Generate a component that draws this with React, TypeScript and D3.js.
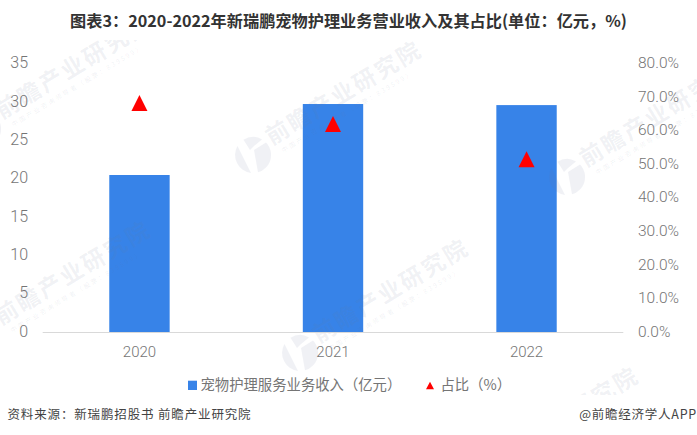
import React from 'react';
import * as d3 from 'd3';

const years = ['2020', '2021', '2022'];
const revenue = [20.48, 29.74, 29.6];
const share = [68.3, 62.0, 51.5];
const leftTicks = [0, 5, 10, 15, 20, 25, 30, 35];
const rightTicks = [0, 10, 20, 30, 40, 50, 60, 70, 80];
// logo centres of the repeated watermark
const watermarks = [
  { x: -17, y: 129 },
  { x: 253, y: 155 },
  { x: 567, y: 177 },
  { x: -18, y: 335 },
  { x: 300, y: 353 },
  { x: 470, y: 481 },
];

const width = 697;
const height = 435;
const CJK = '"Noto Sans CJK SC", "Noto Sans", sans-serif';
const NUM = 'Roboto, "Liberation Sans", sans-serif';
const WM = '#6b7a99';

const x = d3.scaleBand().domain(years).range([42.7, 623.3]).paddingInner(0.688).paddingOuter(0.344);
const yLeft = d3.scaleLinear().domain([0, 35]).range([332, 63.7]);
const yRight = d3.scaleLinear().domain([0, 80]).range([332, 63.7]);

const triangle = d3.symbol().type({
  draw(ctx: any, size: number) {
    ctx.moveTo(0, -size / 2);
    ctx.lineTo(size / 2, size / 2);
    ctx.lineTo(-size / 2, size / 2);
    ctx.closePath();
  },
}).size(16);

const App: React.FC = () => {
  return (
    <svg
      width={width}
      height={height}
      viewBox={`0 0 ${width} ${height}`}
      style={{ position: 'absolute', left: 0, top: 0, background: '#fff' }}
    >
      <defs>
        <clipPath id="wmClip">
          <rect x={0} y={40} width={width} height={355} />
        </clipPath>
      </defs>

      {/* Bars */}
      {years.map((d, i) => (
        <rect
          key={d}
          x={x(d)}
          y={yLeft(revenue[i])}
          width={x.bandwidth()}
          height={yLeft(0) - yLeft(revenue[i])}
          fill="#3783e8"
        />
      ))}

      {/* Watermarks */}
      <g clipPath="url(#wmClip)">
        {watermarks.map((w, i) => (
          <g key={i} transform={`translate(${w.x}, ${w.y})`} fill={WM} fillOpacity="0.1" fontFamily={CJK}>
            <path d="M-15.5 -9 A18 18 0 0 0 -2 17.9 Z" />
            <path d="M-9.5 -15.3 A18 18 0 0 1 9 -15.6 L1 -9 L-3 -5 Z" />
            <path d="M13 -12.5 A18 18 0 0 1 5 17.3 L1 -5 Z" />
            <g transform="rotate(-31)">
              <text x={21} y={1.5} fontSize="23" fontWeight="700" letterSpacing="2.4">前瞻产业研究院</text>
              <text x={27} y={14} fontSize="6.5" letterSpacing="2">中国产业咨询领导者（股票：839599）</text>
            </g>
          </g>
        ))}
      </g>

      <line x1={42.7} x2={623.3} y1={332.5} y2={332.5} stroke="#d9d9d9" strokeWidth="1" />

      <text x={348.5} y={26.5} textAnchor="middle" fontSize="16.2" fontWeight="700" fill="#333" fontFamily={CJK}>
        图表3：2020-2022年新瑞鹏宠物护理业务营业收入及其占比(单位：亿元，%)
      </text>

      {/* Left axis */}
      {leftTicks.map(t => (
        <text key={t} x={28} y={yLeft(t) - 1} dy="0.36em" textAnchor="end" fontSize="16" fontWeight="300" fill="#757575" fontFamily={NUM}>
          {t}
        </text>
      ))}

      {/* Right axis */}
      {rightTicks.map(t => (
        <text key={t} x={638} y={yRight(t) - 1} dy="0.36em" fontSize="15.5" fontWeight="300" fill="#757575" fontFamily={NUM}>
          {`${t.toFixed(1)}%`}
        </text>
      ))}

      {/* Triangles */}
      {years.map((d, i) => (
        <path
          key={d}
          d={triangle() || ''}
          transform={`translate(${(x(d) || 0) + x.bandwidth() / 2}, ${yRight(share[i])})`}
          fill="#ff0000"
        />
      ))}

      {/* X labels */}
      {years.map(d => (
        <text
          key={d}
          x={(x(d) || 0) + x.bandwidth() / 2}
          y={356.5}
          textAnchor="middle"
          fontSize="15"
          fontWeight="300"
          fill="#757575"
          fontFamily={NUM}
        >
          {d}
        </text>
      ))}

      {/* Legend */}
      <rect x={188} y={380.7} width={9} height={9.3} fill="#3783e8" />
      <text x={200.5} y={390.3} fontSize="14.35" fill="#757575" fontFamily={CJK}>宠物护理服务业务收入（亿元）</text>
      <path d="M430 381.7 L434 389.3 L426 389.3 Z" fill="#ff0000" />
      <text x={440.5} y={390.3} fontSize="14.35" fill="#757575" fontFamily={CJK}>占比（%）</text>

      {/* Footer */}
      <text x={7.5} y={418.7} fontSize="12.5" fill="#444" letterSpacing="0.85" fontFamily={CJK}>
        资料来源：新瑞鹏招股书 前瞻产业研究院
      </text>
      <text x={697} y={418.7} textAnchor="end" fontSize="12.5" fill="#444" letterSpacing="0.75" fontFamily={CJK}>@前瞻经济学人APP</text>
    </svg>
  );
};

export default App;
